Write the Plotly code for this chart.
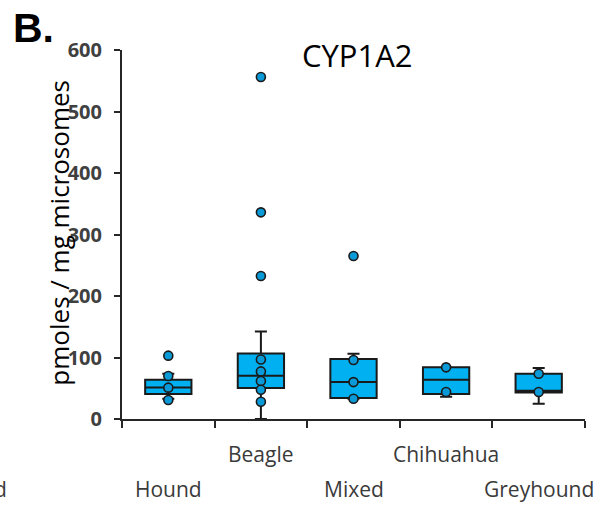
import plotly.graph_objects as go

categories = ["Hound", "Beagle", "Mixed", "Chihuahua", "Greyhound"]
q1 = [40.5, 50.3, 34, 40.6, 43]
median = [51.4, 70.5, 60, 64, 46]
q3 = [64, 106.5, 97.4, 84, 73.5]
lowerfence = [33, 0, 33, 36, 25]
upperfence = [73.5, 142.4, 106, 84, 83]

point_cats = (["Hound"] * 4 + ["Beagle"] * 8 + ["Mixed"] * 4
              + ["Chihuahua"] * 2 + ["Greyhound"] * 2)
point_vals = [103, 70, 51, 31,
              556, 336, 232.6, 96.8, 77.4, 61.7, 47.6, 28,
              265, 96, 60, 33,
              84, 44,
              73.5, 44]

y_ticks = [0, 100, 200, 300, 400, 500, 600]
title_text = "CYP1A2"
y_title = "pmoles / mg microsomes"
panel_label = "B."

fig = go.Figure()
fig.add_trace(go.Box(
    x=categories, q1=q1, median=median, q3=q3,
    lowerfence=lowerfence, upperfence=upperfence,
    boxpoints=False, width=0.5, whiskerwidth=0.26,
    fillcolor="#00B0F0", line=dict(color="#1a1a1a", width=2),
    showlegend=False, hoverinfo="skip"))
fig.add_trace(go.Scatter(
    x=point_cats, y=point_vals, mode="markers",
    marker=dict(size=9, color="#0a9ad8", line=dict(color="#1a1a1a", width=1.6)),
    showlegend=False))

label_font = dict(family="Open Sans", size=21, color="#3a3a3a")
ann = []
for i, c in enumerate(categories):
    ann.append(dict(x=c, xref="x", y=(-0.095 if i % 2 else -0.19), yref="paper",
                    text=c, showarrow=False, font=label_font,
                    xanchor="center", yanchor="middle"))
ann.append(dict(x=(9 - 122) / 463, xref="paper", y=-0.19, yref="paper", text="d",
                showarrow=False, font=label_font, xanchor="right", yanchor="middle"))
ann.append(dict(x=(59 - 122) / 463, xref="paper", y=0.505, yref="paper", text=y_title,
                textangle=-90, showarrow=False,
                font=dict(family="Open Sans", size=26, color="#000000"),
                xanchor="center", yanchor="middle"))
ann.append(dict(x=(357 - 122) / 463, xref="paper", y=(419.3 - 55) / 369.3, yref="paper",
                text=title_text, showarrow=False,
                font=dict(family="Open Sans", size=31, color="#000000"),
                xanchor="center", yanchor="middle"))
ann.append(dict(x=(11 - 122) / 463, xref="paper", y=(419.3 - 28) / 369.3, yref="paper",
                text="<b>" + panel_label + "</b>", showarrow=False,
                font=dict(family="Liberation Sans", size=41, color="#000000"),
                xanchor="left", yanchor="middle"))

fig.update_layout(
    width=610, height=506,
    margin=dict(l=122, r=25, t=50, b=86.7),
    plot_bgcolor="white", paper_bgcolor="white",
    annotations=ann,
    xaxis=dict(type="category", categoryorder="array", categoryarray=categories,
               range=[-0.5, 4.5], showticklabels=False, tickson="boundaries",
               ticks="outside", ticklen=7, tickwidth=2, tickcolor="#262626",
               showline=True, linecolor="#262626", linewidth=2,
               showgrid=False, zeroline=False, fixedrange=True),
    yaxis=dict(range=[0, 600], tickvals=y_ticks, ticks="outside", ticklen=6,
               tickwidth=2, tickcolor="#262626", showline=True, linecolor="#262626",
               linewidth=2, showgrid=False, zeroline=False,
               tickfont=dict(family="Open Sans", size=20, color="#404040", weight="bold"),
               ticklabelstandoff=8),
)

fig.write_html("out.html")
